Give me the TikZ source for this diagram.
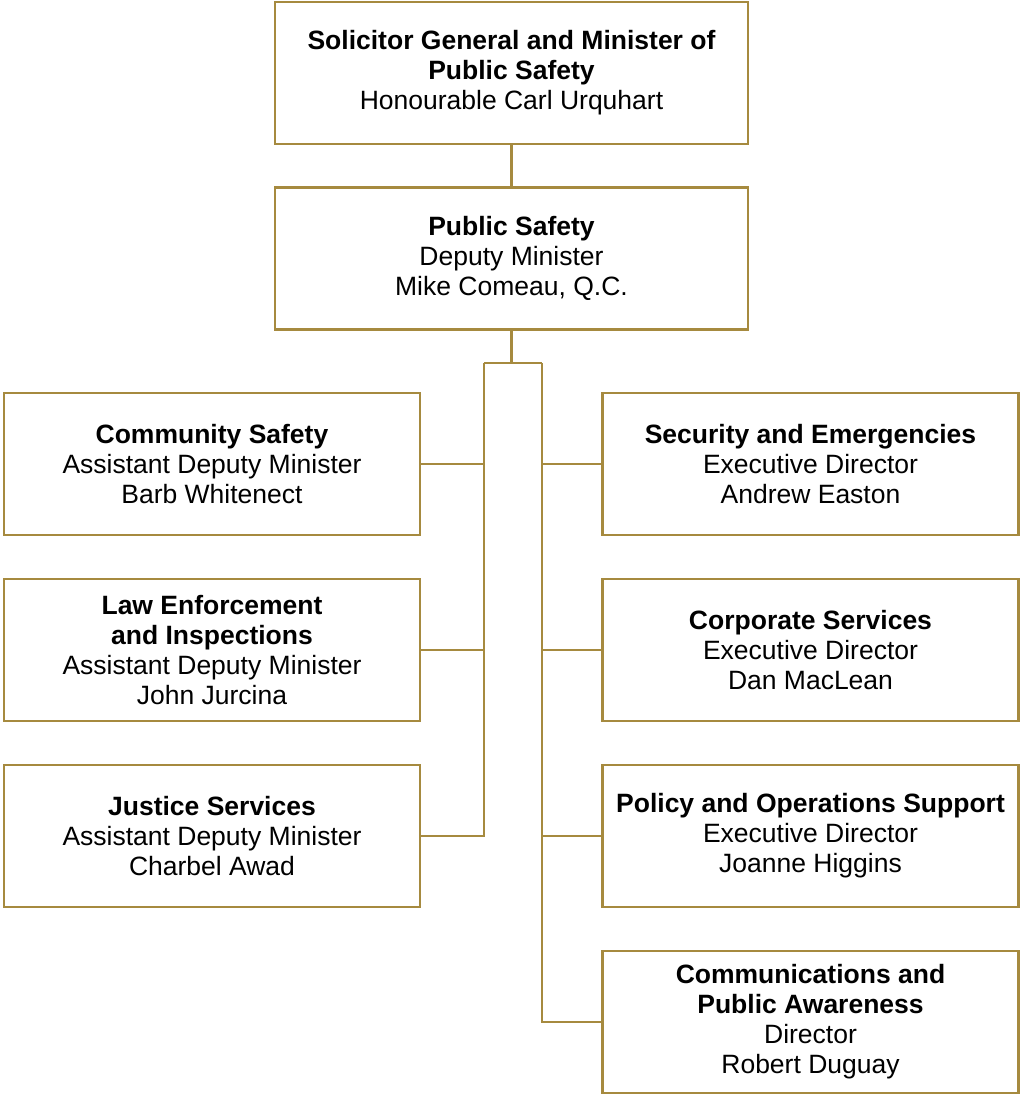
\documentclass[tikz,border=0pt]{standalone}
\usepackage{fontspec}
\setmainfont{Liberation Sans}
\definecolor{gold}{HTML}{A68A3F}
\begin{document}
\begin{tikzpicture}[x=1pt,y=-1pt,
  box/.style={draw=gold, line width=2.5pt, fill=white, align=center, inner sep=0pt,
    minimum height=142pt, font=\fontsize{26.5}{30}\selectfont},
  wide/.style={box, minimum width=473pt},
  side/.style={box, minimum width=416pt},
  conn/.style={draw=gold, line width=2.5pt}]
\useasboundingbox (0,0) rectangle (1021,1097);
\node[wide] (min) at (511.5,73) {\textbf{Solicitor General and Minister of}\\\textbf{Public Safety}\\Honourable Carl Urquhart};
\node[wide] (dep) at (511.5,258.5) {\textbf{Public Safety}\\Deputy Minister\\Mike Comeau, Q.C.};
\node[side] (L1) at (212,464) {\textbf{Community Safety}\\Assistant Deputy Minister\\Barb Whitenect};
\node[side] (L2) at (212,650) {\textbf{Law Enforcement}\\\textbf{and Inspections}\\Assistant Deputy Minister\\John Jurcina};
\node[side] (L3) at (212,836) {\textbf{Justice Services}\\Assistant Deputy Minister\\Charbel Awad};
\node[side] (R1) at (810.5,464) {\textbf{Security and Emergencies}\\Executive Director\\Andrew Easton};
\node[side] (R2) at (810.5,650) {\textbf{Corporate Services}\\Executive Director\\Dan MacLean};
\node[side] (R3) at (810.5,836) {\textbf{Policy and Operations Support}\\Executive Director\\Joanne Higgins};
\node[side] (R4) at (810.5,1022) {\textbf{Communications and}\\\textbf{Public Awareness}\\Director\\Robert Duguay};
\coordinate (j) at (511.5,363);
\coordinate (tl) at (484,363);
\coordinate (tr) at (542,363);
\draw[conn] (min.south) -- (dep.north);
\draw[conn] (dep.south) -- (j);
\draw[conn] (tl) -- (tr);
\draw[conn] (tl) |- (L3.east);
\draw[conn] (tr) |- (R4.west);
\draw[conn] (L1.east) -- (L1.east -| tl);
\draw[conn] (L2.east) -- (L2.east -| tl);
\draw[conn] (R1.west) -- (R1.west -| tr);
\draw[conn] (R2.west) -- (R2.west -| tr);
\draw[conn] (R3.west) -- (R3.west -| tr);
\end{tikzpicture}
\end{document}
